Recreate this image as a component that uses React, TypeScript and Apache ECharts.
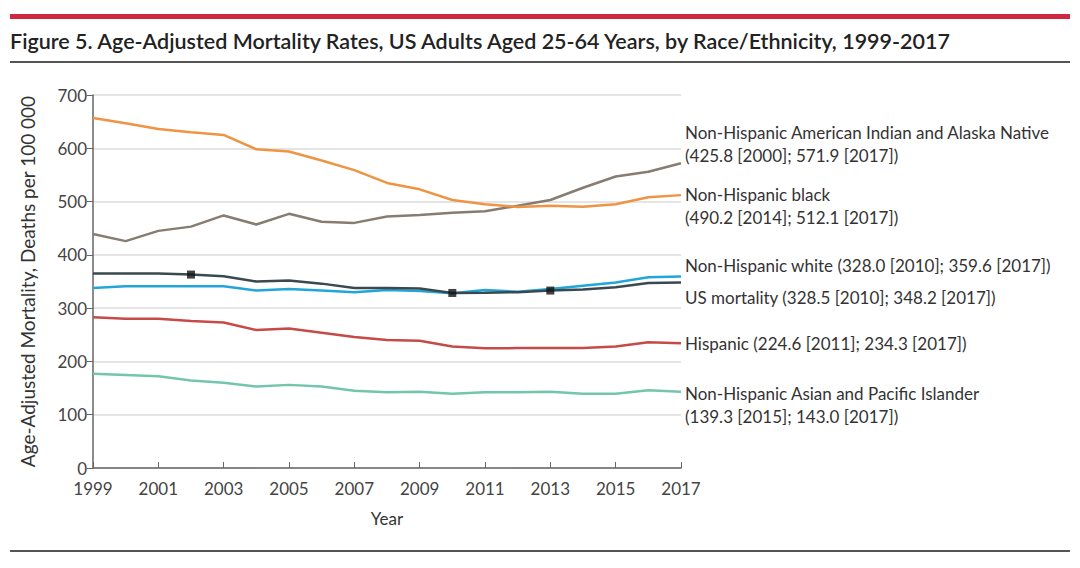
import React, { useEffect, useRef } from "react";
import * as echarts from "echarts";

const years = ["1999","2000","2001","2002","2003","2004","2005","2006","2007","2008","2009","2010","2011","2012","2013","2014","2015","2016","2017"];
const aian = [439, 425.8, 445, 453, 474, 457, 477, 462, 460, 472, 475, 479, 482, 492, 503, 526, 547, 556, 571.9];
const black = [657, 647, 636, 630, 625, 598, 594, 577, 559, 535, 523, 503, 495, 490, 492, 490.2, 495, 508, 512.1];
const white = [338, 341, 341, 341, 341, 333, 336, 333, 330, 334, 332, 328.0, 334, 331, 336, 342, 348, 358, 359.6];
const usMortality = [365, 365, 365, 363, 360, 350, 352, 346, 338, 338, 337, 328.5, 329, 330, 333, 335, 339, 347, 348.2];
const hispanic = [283, 280, 280, 276, 273, 259, 262, 254, 246, 240, 239, 228, 224.6, 225, 225, 225, 228, 236, 234.3];
const asian = [177, 174.5, 172, 164, 160, 153, 156, 153, 145, 142, 143, 139.5, 142, 142, 143, 139.5, 139.3, 146, 143.0];
const markerYears = ["2002", "2010", "2013"];
const yTicks = [0, 100, 200, 300, 400, 500, 600, 700];

const titleText = "Figure 5. Age-Adjusted Mortality Rates, US Adults Aged 25-64 Years, by Race/Ethnicity, 1999-2017";
const yAxisTitle = "Age-Adjusted Mortality, Deaths per 100 000";
const xAxisTitle = "Year";
const seriesLabels = [
  ["Non-Hispanic American Indian and Alaska Native", "(425.8 [2000]; 571.9 [2017])"],
  ["Non-Hispanic black", "(490.2 [2014]; 512.1 [2017])"],
  ["Non-Hispanic white (328.0 [2010]; 359.6 [2017])"],
  ["US mortality (328.5 [2010]; 348.2 [2017])"],
  ["Hispanic (224.6 [2011]; 234.3 [2017])"],
  ["Non-Hispanic Asian and Pacific Islander", "(139.3 [2015]; 143.0 [2017])"],
];
const labelTops = [121, 183, 254, 286, 332, 382];

const FONT = "Lato, 'Open Sans', sans-serif";

export default function App() {
  const ref = useRef<HTMLDivElement>(null);
  useEffect(() => {
    if (!ref.current) return;
    const chart = echarts.init(ref.current, null, { renderer: "svg" });
    const mk = (name: string, data: number[], color: string) => ({
      name,
      type: "line",
      data,
      showSymbol: false,
      symbol: "none",
      lineStyle: { color, width: 2.5 },
      itemStyle: { color },
      z: 3,
    });
    const usIdx = (y: string) => years.indexOf(y);
    const graphics: any[] = [
      { type: "rect", shape: { x: 10, y: 14, width: 1060, height: 5 }, style: { fill: "#D0283E" } },
      { type: "text", x: 10, y: 30, style: { text: titleText, font: `600 21.5px ${FONT}`, fill: "#222" } },
      { type: "rect", shape: { x: 10, y: 61, width: 1060, height: 2 }, style: { fill: "#555" } },
      { type: "rect", shape: { x: 10, y: 550, width: 1060, height: 2 }, style: { fill: "#555" } },
    ];
    seriesLabels.forEach((lines, i) => {
      graphics.push({
        type: "text",
        x: 685,
        y: labelTops[i],
        style: { text: lines.join("\n"), font: `17px ${FONT}`, fill: "#333", lineHeight: 23 },
      });
    });
    chart.setOption({
      animation: false,
      backgroundColor: "#fff",
      grid: { left: 93, right: 399, top: 95, bottom: 100, containLabel: false },
      xAxis: {
        type: "category",
        data: years,
        boundaryGap: false,
        name: xAxisTitle,
        nameLocation: "middle",
        nameGap: 42,
        nameTextStyle: { fontFamily: FONT, fontSize: 17, color: "#333" },
        axisLine: { lineStyle: { color: "#666", width: 1.5 } },
        axisTick: { inside: true, length: 6, interval: 1, lineStyle: { color: "#666" } },
        axisLabel: { interval: 1, fontFamily: FONT, fontSize: 17, color: "#444", margin: 12 },
        splitLine: { show: false },
      },
      yAxis: {
        type: "value",
        min: 0,
        max: 700,
        interval: 100,
        name: yAxisTitle,
        nameLocation: "middle",
        nameGap: 56,
        nameTextStyle: { fontFamily: FONT, fontSize: 19, color: "#333" },
        axisLine: { show: true, lineStyle: { color: "#666", width: 1.5 } },
        axisTick: { show: true, length: 6, lineStyle: { color: "#666" } },
        axisLabel: {
          fontFamily: FONT, fontSize: 17, color: "#444", margin: 6,
          formatter: (v: number) => (yTicks.includes(v) ? String(v) : ""),
        },
        splitLine: { lineStyle: { color: "#ddd", width: 1.5 } },
      },
      series: [
        mk("Non-Hispanic American Indian and Alaska Native", aian, "#877C72"),
        mk("Non-Hispanic black", black, "#EF9443"),
        mk("Non-Hispanic white", white, "#22A6DA"),
        mk("US mortality", usMortality, "#3A494F"),
        mk("Hispanic", hispanic, "#C64A48"),
        mk("Non-Hispanic Asian and Pacific Islander", asian, "#73C5AD"),
        {
          name: "markers",
          type: "scatter",
          symbol: "rect",
          symbolSize: 8,
          itemStyle: { color: "#111" },
          data: markerYears.map((y) => [y, usMortality[usIdx(y)]]),
          z: 5,
        },
      ],
      graphic: graphics,
    });
    return () => chart.dispose();
  }, []);
  return <div ref={ref} style={{ width: 1080, height: 568, position: "absolute", left: 0, top: 0 }} />;
}
